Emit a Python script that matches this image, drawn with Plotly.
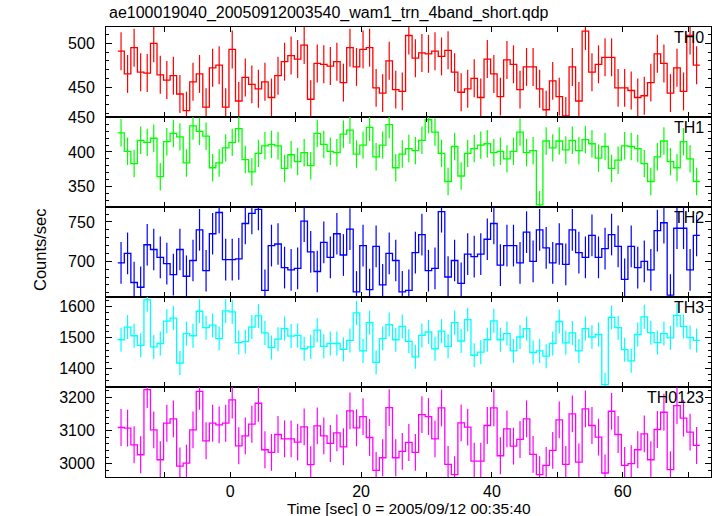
import numpy as np
import plotly.graph_objects as go
from plotly.subplots import make_subplots

# ---- data (1-s bins) ----
bin_start = -16.7
bin_width = 1.0

th0 = [491, 465, 495, 467, 466, 500, 464, 458, 463, 442,
       423, 456, 465, 427, 472, 475, 427, 493, 434, 461,
       453, 448, 456, 438, 463, 479, 486, 482, 498, 436,
       477, 476, 474, 479, 455, 495, 473, 493, 495, 449,
       443, 480, 447, 445, 509, 483, 489, 488, 491, 485,
       492, 467, 444, 448, 460, 438, 482, 465, 439, 481,
       476, 447, 473, 473, 448, 424, 457, 439, 417, 473,
       434, 514, 467, 476, 484, 484, 449, 449, 446, 438,
       440, 455, 488, 477, 443, 472, 445, 509, 475]
th1 = [428, 401, 383, 417, 414, 420, 364, 415, 427, 422,
       384, 438, 430, 423, 377, 384, 406, 414, 434, 389,
       371, 398, 409, 411, 409, 376, 396, 386, 399, 380,
       427, 411, 401, 399, 426, 432, 397, 410, 436, 393,
       410, 440, 377, 397, 405, 402, 417, 447, 429, 398,
       357, 408, 365, 398, 405, 410, 412, 399, 401, 390,
       401, 429, 399, 402, 323, 416, 406, 416, 403, 417,
       402, 418, 412, 391, 408, 376, 388, 409, 408, 405,
       383, 357, 393, 416, 386, 377, 415, 390, 357]
th2 = [698, 710, 673, 667, 721, 715, 705, 697, 683, 715,
       681, 701, 740, 688, 735, 762, 702, 702, 703, 748,
       761, 766, 663, 720, 722, 692, 689, 691, 751, 712,
       687, 724, 705, 735, 708, 741, 661, 720, 664, 719,
       670, 710, 701, 661, 663, 711, 734, 688, 691, 763,
       680, 701, 672, 709, 706, 709, 728, 748, 695, 720,
       720, 698, 737, 700, 740, 717, 698, 722, 696, 740,
       711, 705, 733, 705, 716, 734, 719, 677, 719, 692,
       700, 689, 739, 749, 657, 742, 742, 689, 733]
th3 = [1493, 1534, 1506, 1475, 1622, 1470, 1481, 1553, 1563, 1418,
       1513, 1506, 1585, 1532, 1540, 1497, 1586, 1583, 1484, 1487,
       1534, 1570, 1515, 1468, 1495, 1529, 1505, 1507, 1464, 1470,
       1524, 1472, 1481, 1481, 1462, 1491, 1580, 1457, 1548, 1420,
       1497, 1542, 1493, 1536, 1488, 1438, 1507, 1518, 1464, 1521,
       1472, 1548, 1489, 1558, 1443, 1453, 1493, 1554, 1493, 1513,
       1457, 1502, 1529, 1452, 1457, 1440, 1481, 1552, 1483, 1515,
       1457, 1529, 1502, 1510, 1348, 1565, 1532, 1461, 1425, 1510,
       1567, 1516, 1484, 1513, 1499, 1572, 1536, 1500, 1491]
th0123 = [3109, 3107, 3057, 3027, 3223, 3102, 3012, 3122, 3135, 2993,
          3002, 3102, 3218, 3069, 3122, 3117, 3122, 3192, 3054, 3084,
          3119, 3182, 3042, 3034, 3088, 3075, 3075, 3065, 3111, 2997,
          3114, 3084, 3061, 3093, 3051, 3159, 3108, 3142, 3079, 2980,
          3018, 3169, 3018, 3037, 3064, 3034, 3148, 3142, 3075, 3168,
          2998, 2967, 3123, 3110, 3008, 3008, 3115, 3168, 3024, 3105,
          3053, 3073, 3135, 3028, 2967, 2995, 3040, 3132, 2998, 3150,
          3005, 3165, 3115, 3080, 2972, 3158, 3088, 2995, 3000, 3042,
          3090, 3012, 3103, 3155, 2982, 3175, 3137, 3095, 3055]

panel_names = ["TH0", "TH1", "TH2", "TH3", "TH0123"]
panel_values = [th0, th1, th2, th3, th0123]
panel_errors = [21.7, 20.0, 26.5, 38.7, 55.5]
panel_colors = ["#ff0000", "#00ff00", "#0000ff", "#00ffff", "#ff00ff"]
y_ranges = [[415.7, 518.7], [319.8, 451.0], [654.6, 769.0], [1340.6, 1631.0], [2960.0, 3231.0]]
y_major = [50, 50, 50, 100, 100]
y_minor = [10, 10, 10, 20, 20]
x_range = [-19.0, 73.5]

title_text = "ae100019040_20050912003540_wam1_trn_4band_short.qdp"
x_title = "Time [sec] 0 = 2005/09/12 00:35:40"
y_title = "Counts/sec"

# ---- figure ----
W, H = 717, 516
L, R, T, B = 106, 6, 27, 39
PH = H - T - B
FONT = "Liberation Sans"

fig = make_subplots(rows=5, cols=1, shared_xaxes=True, vertical_spacing=0)

for i, (name, vals, err, col) in enumerate(zip(panel_names, panel_values, panel_errors, panel_colors)):
    v = np.array(vals, dtype=float)
    t = bin_start + bin_width * np.arange(len(v))
    xe = np.append(t - bin_width / 2, t[-1] + bin_width / 2)
    ye = np.append(v, v[-1])
    fig.add_trace(go.Scatter(x=t, y=v, mode="markers",
                             marker=dict(size=1, color=col),
                             error_y=dict(type="constant", value=err, thickness=1.2,
                                          width=0, color=col),
                             showlegend=False, hoverinfo="skip"), row=i + 1, col=1)
    fig.add_trace(go.Scatter(x=xe, y=ye, mode="lines", line_shape="hv",
                             line=dict(color=col, width=1.3),
                             showlegend=False, name=name), row=i + 1, col=1)
    fig.update_yaxes(row=i + 1, col=1, range=y_ranges[i], tick0=0, dtick=y_major[i],
                     ticks="inside", ticklen=6, tickwidth=1, tickcolor="black",
                     minor=dict(dtick=y_minor[i], tick0=0, ticks="inside", ticklen=3,
                                tickwidth=1, tickcolor="black", showgrid=False),
                     showline=True, linecolor="black", linewidth=1, mirror="ticks",
                     showgrid=False, zeroline=False, ticklabelstandoff=7,
                     tickfont=dict(family=FONT, size=16, color="black"))

fig.update_xaxes(range=x_range, tick0=0, dtick=20, ticks="inside", ticklen=5,
                 tickwidth=1, tickcolor="black",
                 minor=dict(dtick=10, tick0=0, ticks="inside", ticklen=5, tickwidth=1,
                            tickcolor="black", showgrid=False),
                 showline=True, linecolor="black", linewidth=1, mirror="ticks",
                 showgrid=False, zeroline=False, ticklabelstandoff=0,
                 tickfont=dict(family=FONT, size=16, color="black"))

annotations = []
annotations.append(dict(text=title_text, xref="paper", yref="paper", x=0, xshift=1,
                        y=1 + (T - 13) / PH,
                        xanchor="left", yanchor="middle", showarrow=False,
                        font=dict(family=FONT, size=16, color="black")))
annotations.append(dict(text=x_title, xref="paper", yref="paper", x=0.5, y=-(508 - (H - B)) / PH,
                        xanchor="center", yanchor="middle", showarrow=False,
                        font=dict(family=FONT, size=15.5, color="black")))
annotations.append(dict(text=y_title, xref="paper", yref="paper", x=(40 - L) / (W - L - R),
                        y=((H - B) - 250) / PH, xanchor="center", yanchor="middle",
                        textangle=-90, showarrow=False,
                        font=dict(family=FONT, size=16.5, color="black")))
for i, name in enumerate(panel_names):
    top_px = T + i * PH / 5
    annotations.append(dict(text=name, xref="paper", yref="paper", x=1, xshift=-5,
                            y=((H - B) - (top_px + 10.5)) / PH, xanchor="right",
                            yanchor="middle", showarrow=False,
                            font=dict(family=FONT, size=16, color="black")))

fig.update_layout(width=W, height=H, margin=dict(l=L, r=R, t=T, b=B),
                  paper_bgcolor="white", plot_bgcolor="white",
                  annotations=annotations, showlegend=False)

fig.write_html("out.html", config={"displayModeBar": False},
               post_script="document.body.style.margin='0';document.body.style.padding='0';")
